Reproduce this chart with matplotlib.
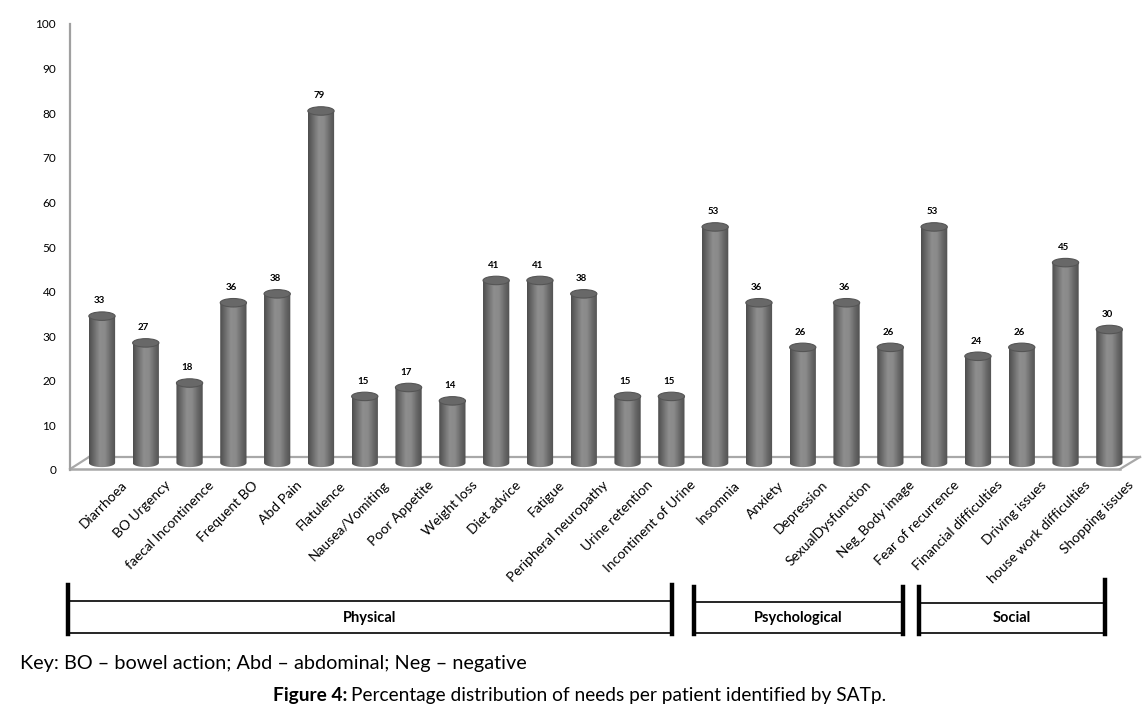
import matplotlib
matplotlib.use("Agg")
import matplotlib.pyplot as plt
import numpy as np
from matplotlib.patches import Ellipse, PathPatch
from matplotlib.path import Path
from matplotlib.lines import Line2D
from matplotlib.colors import LinearSegmentedColormap

plt.rcParams['font.family'] = ['Lato', 'DejaVu Sans']

categories = ['Diarrhoea', 'BO Urgency', 'faecal Incontinence', 'Frequent BO', 'Abd Pain',
              'Flatulence', 'Nausea/Vomiting', 'Poor Appetite', 'Weight loss', 'Diet advice',
              'Fatigue', 'Peripheral neuropathy', 'Urine retention', 'Incontinent of Urine',
              'Insomnia', 'Anxiety', 'Depression', 'SexualDysfunction', 'Neg_Body image',
              'Fear of recurrence', 'Financial difficulties', 'Driving issues',
              'house work difficulties', 'Shopping issues']
values = [33, 27, 18, 36, 38, 79, 15, 17, 14, 41, 41, 38, 15, 15,
          53, 36, 26, 36, 26, 53, 24, 26, 45, 30]
yticks = [0, 10, 20, 30, 40, 50, 60, 70, 80, 90, 100]
groups = ['Physical', 'Psychological', 'Social']

W, H = 1148, 713
fig = plt.figure(figsize=(W / 100, H / 100), dpi=100)
fig.patch.set_facecolor('white')

def fx(x):
    return x / W

def fy(y):
    return 1 - y / H

# axes placed so that bar 0 sits at ~102px and bar 23 at ~1110px
x0, x1 = -0.73, 23.7
ax = fig.add_axes([fx(70), fy(470), fx(1140) - fx(70), fy(24) - fy(470)])
ax.set_xlim(x0, x1)
ax.set_ylim(0, 100)
for s in ['top', 'right', 'bottom']:
    ax.spines[s].set_visible(False)
ax.spines['left'].set_color('#a0a0a0')
ax.spines['left'].set_linewidth(1.6)
ax.set_yticks(yticks)
ax.set_yticklabels([str(t) for t in yticks], fontsize=8.5)
ax.tick_params(axis='y', length=0, pad=10)
ax.set_xticks([])

# 3d floor
px_x = (x1 - x0) / (1140 - 70)
px_y = 100 / (470 - 24)
dx, dy = 19 * px_x, 13 * px_y
front_r = 23.24
ax.plot([x0, front_r], [0.2, 0.2], color='#a8a8a8', lw=1.8, zorder=1, clip_on=False)
ax.plot([x0 + dx, x1], [dy, dy], color='#a8a8a8', lw=1.6, zorder=1, clip_on=False)
ax.plot([x0, x0 + dx], [0.2, dy], color='#a8a8a8', lw=1.6, zorder=1, clip_on=False)
ax.plot([front_r, x1], [0.2, dy], color='#a8a8a8', lw=1.6, zorder=1, clip_on=False)

# cylinders
cmap = LinearSegmentedColormap.from_list('cyl', ['#4e4e4e', '#6e6e6e', '#8e8e8e', '#8a8a8a', '#6a6a6a', '#505050'])
grad = np.linspace(0, 1, 64).reshape(1, -1)
bw = 0.6
eh = 1.9
base = 1.6
lift = 1.5
xs = np.arange(len(values))
for i, v in zip(xs, values):
    top = v + lift
    t = np.linspace(np.pi, 2 * np.pi, 40)
    arc = np.column_stack([i + bw / 2 * np.cos(t), base + eh / 2 * np.sin(t)])
    verts = np.vstack([[i - bw / 2, top], arc, [i + bw / 2, top], [i - bw / 2, top]])
    codes = [Path.MOVETO] + [Path.LINETO] * (len(verts) - 2) + [Path.CLOSEPOLY]
    clip = PathPatch(Path(verts, codes), transform=ax.transData, facecolor='none', edgecolor='none')
    ax.add_patch(clip)
    im = ax.imshow(grad, cmap=cmap, aspect='auto', extent=[i - bw / 2, i + bw / 2, base - eh, top],
                   zorder=3, interpolation='bilinear')
    im.set_clip_path(clip)
    ax.add_patch(Ellipse((i, top), bw, eh, facecolor='#686868', edgecolor='#555555', lw=0.8, zorder=4))
    ax.text(i - 0.05, v + 3.9, str(v), ha='center', va='bottom', fontsize=7, fontweight='bold', zorder=5)

ax.set_xlim(x0, x1)
ax.set_ylim(0, 100)

# category labels
for i, c in zip(xs, categories):
    ax.text(i + 0.42, -2.0, c, rotation=45, rotation_mode='anchor', ha='right', va='top',
            fontsize=10, clip_on=False)

# group boxes (pixel layout)
boxes = [(68, 672, 585, 601), (694, 903, 587, 602), (919, 1105, 587, 603)]
for name, (l, r, vt, ht) in zip(groups, boxes):
    fig.add_artist(Line2D([fx(l), fx(l)], [fy(vt), fy(634)], color='black', lw=3.2))
    rt = 580 if name == 'Social' else vt
    fig.add_artist(Line2D([fx(r), fx(r)], [fy(rt), fy(634)], color='black', lw=3.2))
    fig.add_artist(Line2D([fx(l), fx(r)], [fy(ht), fy(ht)], color='black', lw=1.2))
    fig.add_artist(Line2D([fx(l), fx(r)], [fy(633), fy(633)], color='black', lw=1.2))
    fig.text(fx((l + r) / 2), fy(618), name, ha='center', va='center', fontsize=10.5, fontweight='bold')

fig.text(fx(20), fy(663), 'Key: BO \u2013 bowel action; Abd \u2013 abdominal; Neg \u2013 negative',
         ha='left', va='center', fontsize=14.3)
t1 = fig.text(fx(273), fy(695), 'Figure 4:', ha='left', va='center', fontsize=13.8, fontweight='bold')
fig.canvas.draw()
bb = t1.get_window_extent()
fig.text(bb.x1 / W + 4 / W, fy(695), 'Percentage distribution of needs per patient identified by SATp.',
         ha='left', va='center', fontsize=13.8)

fig.savefig('out.png', dpi=100)
